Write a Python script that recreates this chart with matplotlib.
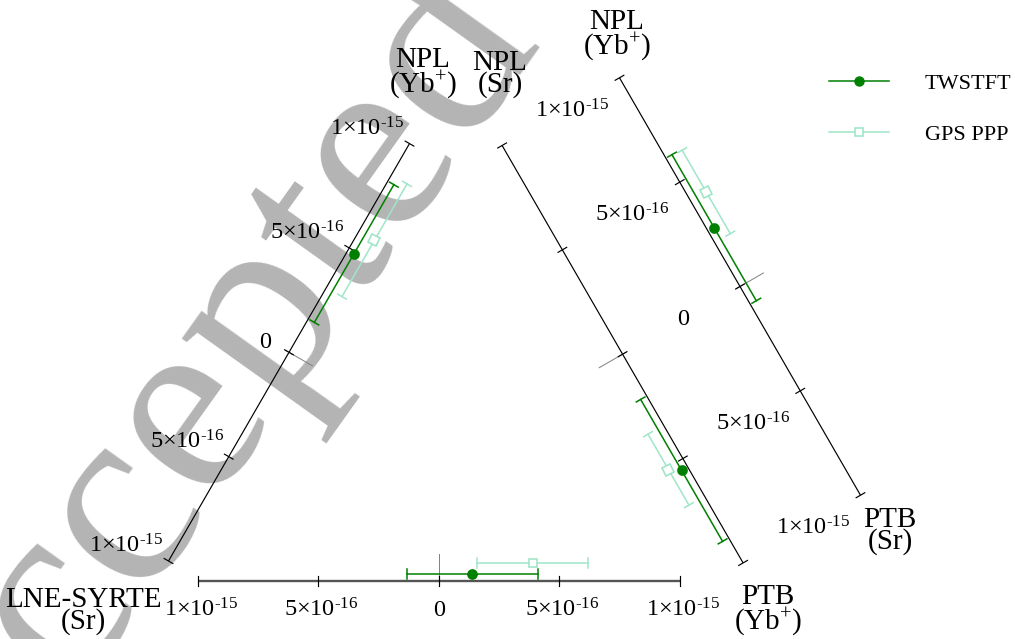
import matplotlib
matplotlib.use('Agg')
import matplotlib.pyplot as plt
import numpy as np
from matplotlib.transforms import Affine2D, offset_copy
from matplotlib.lines import Line2D
from matplotlib.markers import MarkerStyle

# ---------------- data (fractional frequency differences, units of 1e-16) -------------
sides = ['LNE-SYRTE(Sr) - PTB(Yb+)', 'LNE-SYRTE(Sr) - NPL(Yb+)',
         'NPL(Sr) - PTB(Yb+)', 'PTB(Sr) - NPL(Yb+)']
twstft_val = [1.4, 4.9, 5.4, 2.65]
twstft_err = [2.7, 3.3, 3.4, 3.5]
gps_val = [3.9, 5.8, 5.1, 4.1]
gps_err = [2.3, 2.7, 1.7, 2.0]
tick_values = [-10, -5, 0, 5, 10]
tick_labels = ['1×10$^{\\text{-15}}$', '5×10$^{\\text{-16}}$', '0',
               '5×10$^{\\text{-16}}$', '1×10$^{\\text{-15}}$']
end_labels = ['LNE-SYRTE\n(Sr)', 'PTB\n(Yb$^{+}$)', 'NPL\n(Yb$^{+}$)',
              'NPL\n(Sr)', 'NPL\n(Yb$^{+}$)', 'PTB\n(Sr)']
series_names = ['TWSTFT', 'GPS PPP']

# ---------------- layout (pixel space) ----------------
plt.rcParams['font.family'] = ['Liberation Serif', 'DejaVu Serif']
plt.rcParams['mathtext.fontset'] = 'custom'
plt.rcParams['mathtext.rm'] = 'Liberation Serif'
plt.rcParams['mathtext.it'] = 'Liberation Serif:italic'
plt.rcParams['mathtext.bf'] = 'Liberation Serif:bold'

W, H = 1015, 639
fig = plt.figure(figsize=(W / 100, H / 100), dpi=100)
ax = fig.add_axes([0, 0, 1, 1])
ax.set_xlim(0, W)
ax.set_ylim(H, 0)
ax.axis('off')

S = 24.1  # px per 1e-16
s3 = np.sqrt(3) / 2
origins = [(438.7, 580.7), (289.0, 352.3), (622.6, 354.2), (740.0, 286.5)]
dirs = [(1, 0), (0.5, -s3), (0.5, s3), (-0.5, -s3)]
normals = [(0, -1), (s3, 0.5), (-s3, 0.5), (s3, -0.5)]
axis_colors = ['#555555', 'black', 'black', 'black']
axis_lw = [1.7, 0.85, 0.85, 0.85]
# tick-label offsets (px, y down): (long labels, zero label); None -> no labels
label_offsets = [((3, 29), (0, 30)), ((-42, -15), (-24, -10)),
                 ((70, -35), (61, -35)), None]

green = '#008000'
mint = '#9fe6c8'
off_tw, off_gps = 7, 18
cap = 5


def side_transform(k):
    ox, oy = origins[k]
    dx, dy = dirs[k]
    nx, ny = normals[k]
    m = np.array([[dx * S, nx, ox], [dy * S, ny, oy], [0, 0, 1.0]])
    return Affine2D(m) + ax.transData


# watermark
ax.text(200, 410, 'Accepted', rotation=54.5, rotation_mode='anchor',
        fontsize=190, color='#b4b4b4', ha='center', va='center', zorder=0,
        family='Liberation Serif')

for k in range(4):
    T = side_transform(k)
    ang = np.degrees(np.arctan2(-dirs[k][1], dirs[k][0]))
    ax.plot([tick_values[0], tick_values[-1]], [0, 0], transform=T,
            color=axis_colors[k], lw=axis_lw[k], zorder=2, solid_capstyle='butt')
    for t in tick_values:
        ax.plot([t, t], [-cap, cap], transform=T, color='black', lw=0.85, zorder=3)
    ax.plot([0, 0], [-4, 27], transform=T, color='#808080', lw=0.7, zorder=2)

    for val, err, off, col, mk, mfc, ms in [
            (gps_val[k], gps_err[k], off_gps, mint, 's', 'white', 6.2),
            (twstft_val[k], twstft_err[k], off_tw, green, 'o', green, 6.5)]:
        ax.plot([val - err, val + err], [off, off], transform=T, color=col,
                lw=1.1, zorder=4)
        for e in (val - err, val + err):
            ax.plot([e, e], [off - cap, off + cap], transform=T, color=col,
                    lw=1.1, zorder=4)
        ax.plot([val], [off], transform=T, linestyle='none',
                marker=MarkerStyle(mk, transform=Affine2D().rotate_deg(ang)),
                markersize=ms, markerfacecolor=mfc, markeredgecolor=col,
                markeredgewidth=1.2, zorder=5)

    if label_offsets[k] is not None:
        for t, lab in zip(tick_values, tick_labels):
            ox_, oy_ = label_offsets[k][1] if lab == '0' else label_offsets[k][0]
            tt = offset_copy(T, fig=fig, x=ox_, y=-oy_, units='dots')
            ax.text(t, 0, lab, transform=tt, ha='center', va='center',
                    fontsize=17.5, zorder=6)

end_pos = [(83, 611), (768, 611), (423, 74), (500, 74), (617, 36), (890, 531)]
for (x, y), lab in zip(end_pos, end_labels):
    ax.text(x, y, lab, ha='center', va='center', fontsize=21,
            linespacing=0.8, zorder=6)

handles = [Line2D([], [], color=green, marker='o', markersize=6.5, lw=1.1),
           Line2D([], [], color=mint, marker='s', markersize=6.2, lw=1.1,
                  markerfacecolor='white', markeredgewidth=1.2)]
fig.legend(handles, series_names, loc='upper left',
           bbox_to_anchor=(829 / W, 1 - 73 / H), frameon=False, fontsize=16,
           handlelength=2.7, handletextpad=1.6, labelspacing=1.38,
           borderpad=0, borderaxespad=0)

fig.savefig('out.png', dpi=100)
